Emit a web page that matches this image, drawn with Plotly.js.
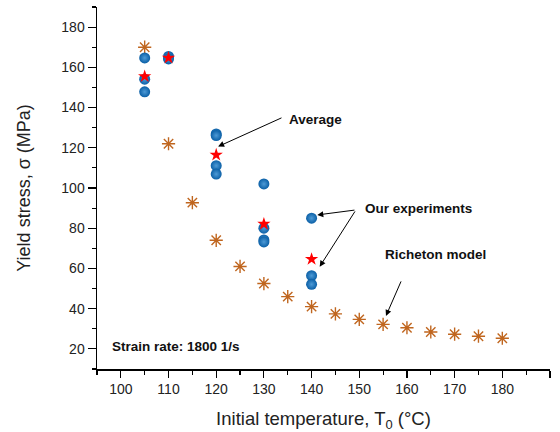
<!DOCTYPE html>
<html>
<head>
<meta charset="utf-8">
<script src="https://cdn.plot.ly/plotly-3.0.1.min.js"></script>
<style>html,body{margin:0;padding:0;background:#fff;}#chart{width:560px;height:432px;}</style>
</head>
<body>
<div id="chart"></div>
<script>
// Richeton model
const modelT = [105,110,115,120,125,130,135,140,145,150,155,160,165,170,175,180];
const modelStress = [170,122,92.7,74,61,52.5,46,41,37.4,34.7,32.2,30.5,28.4,27.3,26.3,25.3];
// Our experiments
const expT = [105,105,105,110,110,120,120,120,120,130,130,130,130,140,140,140];
const expStress = [164.7,154.1,147.8,165.4,164.2,126.9,126.1,111.1,106.9,102,80,74.2,73.2,85,56.4,52.1];
// Average
const avgT = [105,110,120,130,140];
const avgStress = [155.5,164.7,116.5,82.1,64.6];

const traces = [
  {x: modelT, y: modelStress, type:'scatter', mode:'markers', name:'Richeton model',
   marker:{symbol:'asterisk-open', size:11, color:'#c0661f', line:{color:'#c0661f', width:1.4}}},
  {x: expT, y: expStress, type:'scatter', mode:'markers', name:'Our experiments',
   marker:{symbol:'circle', size:11, color:'#0a5fa6', gradient:{type:'radial', color:'#4d9ad6'}, line:{width:0}}},
  {x: avgT, y: avgStress, type:'scatter', mode:'markers', name:'Average',
   marker:{symbol:'star', size:10, color:'#ff0000', line:{width:0}}}
];

const bold = {family:'Liberation Sans, Arial, sans-serif', size:13.5, color:'#111'};
function arrow(hx, hy, tx, ty){
  return {x:hx, y:hy, ax:tx, ay:ty, xref:'x', yref:'y', axref:'x', ayref:'y', text:'',
          showarrow:true, arrowhead:2, arrowsize:1.2, arrowwidth:1, arrowcolor:'#000'};
}
function label(x, y, t){
  return {x:x, y:y, xref:'x', yref:'y', text:'<b>'+t+'</b>', showarrow:false, font:bold};
}

const layout = {
  width:560, height:432,
  margin:{l:97, r:10, t:7, b:63},
  paper_bgcolor:'#fff', plot_bgcolor:'#fff',
  showlegend:false,
  font:{family:'Liberation Sans, Arial, sans-serif', size:14, color:'#222'},
  xaxis:{
    range:[95,190], tick0:0, dtick:10, ticks:'outside', ticklen:7, tickwidth:1.2, tickcolor:'#000',
    showline:true, linecolor:'#000', linewidth:1.5, showgrid:false, zeroline:false,
    minor:{dtick:5, tick0:0, ticks:'outside', ticklen:4, tickcolor:'#000', showgrid:false},
    tickfont:{size:14, color:'#222'},
    title:{text:'Initial temperature, T<sub>0</sub> (°C)', font:{size:18.5, color:'#222'}, standoff:16}
  },
  yaxis:{
    range:[10,190], tick0:0, dtick:20, ticks:'outside', ticklen:8, tickwidth:1.2, tickcolor:'#000',
    showline:true, linecolor:'#000', linewidth:1.5, showgrid:false, zeroline:false,
    minor:{dtick:10, tick0:0, ticks:'outside', ticklen:4, tickcolor:'#000', showgrid:false},
    tickfont:{size:14, color:'#222'},
    title:{text:'Yield stress, σ (MPa)', font:{size:18, color:'#222'}, standoff:26}
  },
  annotations:[
    arrow(120.4,120.6,134,135.2),
    label(140.8,134,'Average'),
    arrow(141.2,86.6,149.3,89.1),
    arrow(141.7,60.9,149.3,89.1),
    label(162.4,90,'Our experiments'),
    arrow(155.6,36.4,158.9,54.3),
    label(165.9,67,'Richeton model'),
    label(111.5,21,'Strain rate: 1800 1/s')
  ]
};

Plotly.newPlot('chart', traces, layout, {displayModeBar:false, staticPlot:true});
</script>
</body>
</html>
